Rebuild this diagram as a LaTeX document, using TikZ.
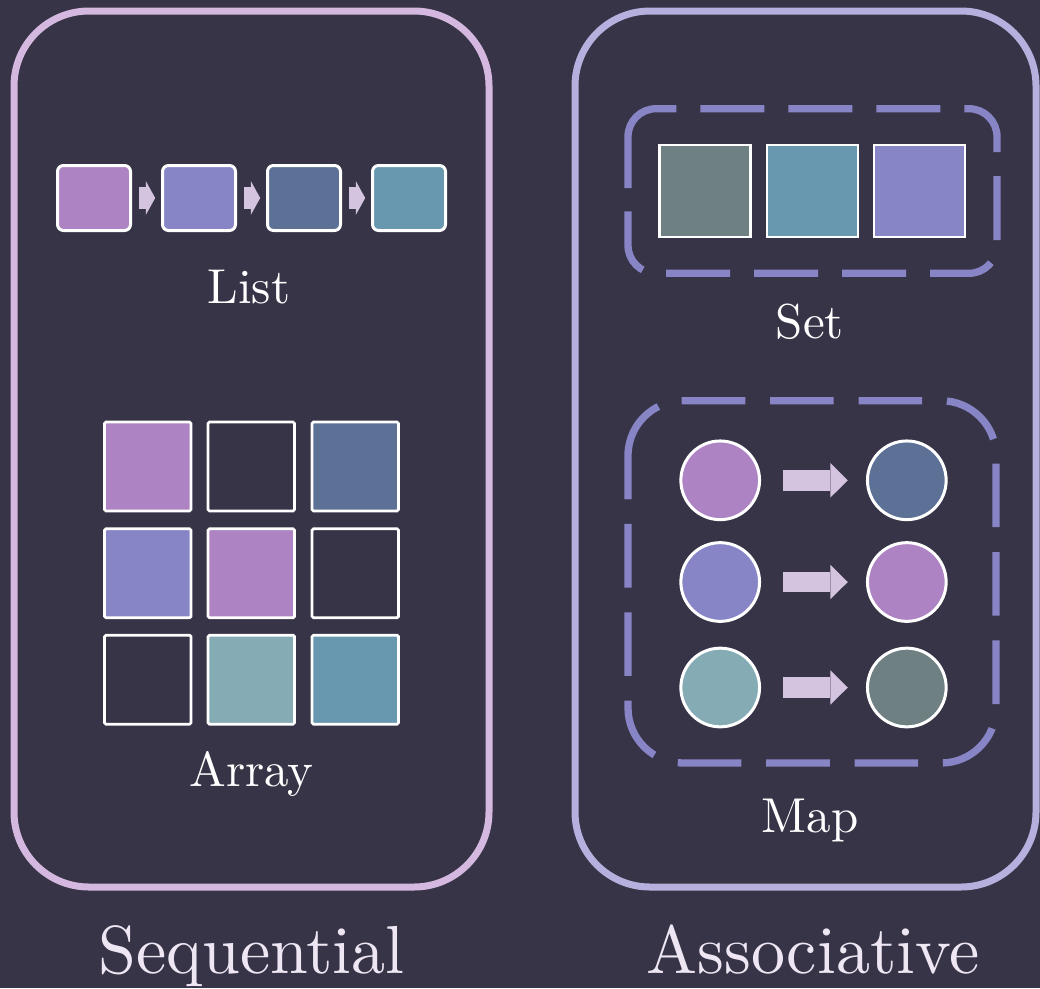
\documentclass[tikz,border=0pt]{standalone}
\usepackage{fontspec}
\usetikzlibrary{arrows.meta}

% Latin Modern, 10pt design cut, used at every size
\newfontfamily\lmten{lmroman10-regular.otf}

\definecolor{bgc}{HTML}{373447}
\definecolor{cpurple}{HTML}{AE83C4}
\definecolor{clav}{HTML}{8785C6}
\definecolor{cslate}{HTML}{5D7196}
\definecolor{cteal}{HTML}{6897B0}
\definecolor{cmint}{HTML}{85ABB5}
\definecolor{cgrey}{HTML}{6E8082}
\definecolor{arrowc}{HTML}{D4C4E0}
\definecolor{seqedge}{HTML}{D4B8DF}
\definecolor{assocedge}{HTML}{B5B0DD}
\definecolor{titlec}{HTML}{EEE6F3}

\begin{document}
\begin{tikzpicture}[x=1pt,y=-1pt,
  bigbox/.style={draw, line width=7pt, rounded corners=75pt, inner sep=0pt},
  listcell/.style={draw=white, line width=3pt, rounded corners=6pt,
    minimum width=73pt, minimum height=65pt, inner sep=0pt},
  gridcell/.style={draw=white, line width=2.7pt, rounded corners=1.5pt,
    minimum width=86.5pt, minimum height=89pt, inner sep=0pt},
  setcell/.style={draw=white, line width=2.4pt,
    minimum width=91pt, minimum height=92pt, inner sep=0pt},
  mapdot/.style={circle, draw=white, line width=3pt, minimum size=78.7pt, inner sep=0pt},
  listarrow/.style={draw=arrowc, line width=22pt,
    -{Triangle[length=9.4pt 0 0, width=34pt 0 0, line width=0pt]},
    shorten <=6.5pt, shorten >=5.8pt},
  maparrow/.style={draw=arrowc, line width=20.7pt,
    -{Triangle[length=17.3pt 0 0, width=34.4pt 0 0, line width=0pt]},
    shorten <=21.5pt, shorten >=18.2pt},
  group/.style={draw=clav, line width=7.3pt},
  label/.style={text=white, anchor=base, inner sep=0pt, font=\lmten\fontsize{49}{58}\selectfont},
  title/.style={text=titlec, anchor=base, inner sep=0pt, font=\lmten\fontsize{68}{80}\selectfont}]

\useasboundingbox (0,0) rectangle (1040,988);
\fill[bgc] (0,0) rectangle (1040,988);

% outer category frames
\node[bigbox, draw=seqedge, minimum width=475pt, minimum height=876pt] (seq) at (251.5,449) {};
\node[bigbox, draw=assocedge, minimum width=461pt, minimum height=876pt] (assoc) at (805.5,449) {};

% linked list
\node[listcell, fill=cpurple] (l1) at (94,198) {};
\node[listcell, fill=clav]    (l2) at (199,198) {};
\node[listcell, fill=cslate]  (l3) at (304,198) {};
\node[listcell, fill=cteal]   (l4) at (409,198) {};
\draw[listarrow] (l1) -- (l2);
\draw[listarrow] (l2) -- (l3);
\draw[listarrow] (l3) -- (l4);
\node[label] (listlbl) at (249,303.3) {List};

% array grid
\node[gridcell, fill=cpurple] (a11) at (147.8,466.5) {};
\node[gridcell]               (a12) at (251.3,466.5) {};
\node[gridcell, fill=cslate]  (a13) at (355.3,466.5) {};
\node[gridcell, fill=clav]    (a21) at (147.8,573.3) {};
\node[gridcell, fill=cpurple] (a22) at (251.3,573.3) {};
\node[gridcell]               (a23) at (355.3,573.3) {};
\node[gridcell]               (a31) at (147.8,679.7) {};
\node[gridcell, fill=cmint]   (a32) at (251.3,679.7) {};
\node[gridcell, fill=cteal]   (a33) at (355.3,679.7) {};
\node[label] (arraylbl) at (251.7,786.7) {Array};

% set container
\draw[group, dash pattern=on 64pt off 24pt, rounded corners=28pt]
  (700.3,108.7) -- (997,108.7) -- (997,273.3) -- (628,273.3) -- (628,188);
\draw[group] (628,188) -- (628,136.7) arc[start angle=180, end angle=270, radius=28] -- (676.3,108.7);
\node[setcell, fill=cgrey] (s1) at (705,191) {};
\node[setcell, fill=cteal] (s2) at (812.3,191) {};
\node[setcell, fill=clav]  (s3) at (919.7,191) {};
\node[label] (setlbl) at (810,338.5) {Set};

% map container
\draw[group, dash pattern=on 63.6pt off 24.8pt, rounded corners=55pt]
  (681.7,400.7) -- (996,400.7) -- (996,763) -- (628,763) -- (628,499);
\draw[group] (628,499) -- (628,455.7) arc[start angle=180, end angle=243.4, radius=55];
\node[mapdot, fill=cpurple] (k1) at (720.2,480.3) {};
\node[mapdot, fill=cslate]  (v1) at (906.8,480.3) {};
\node[mapdot, fill=clav]    (k2) at (720.2,582) {};
\node[mapdot, fill=cpurple] (v2) at (906.8,582) {};
\node[mapdot, fill=cmint]   (k3) at (720.2,687.5) {};
\node[mapdot, fill=cgrey]   (v3) at (906.8,687.5) {};
\draw[maparrow] (k1) -- (v1);
\draw[maparrow] (k2) -- (v2);
\draw[maparrow] (k3) -- (v3);
\node[label] (maplbl) at (810,832.7) {Map};

% category titles
\node[title] (seqtitle) at (251.5,973.3) {Sequential};
\node[title] (assoctitle) at (813,973.3) {Associative};
\end{tikzpicture}
\end{document}
